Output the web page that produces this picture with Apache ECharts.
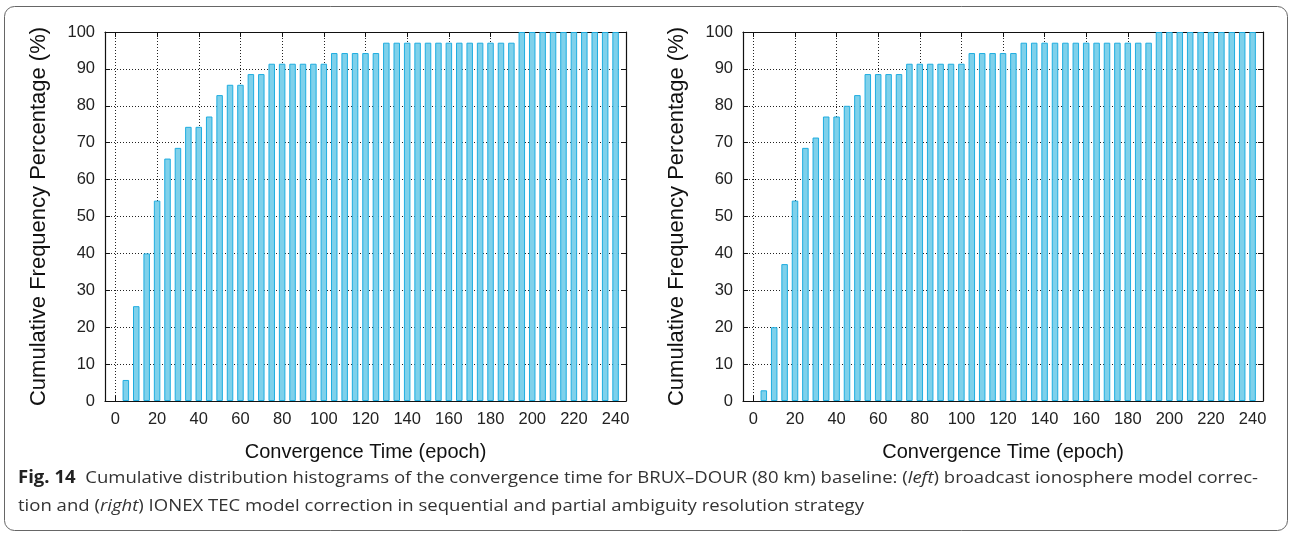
<!DOCTYPE html>
<html><head><meta charset="utf-8">
<script src="https://cdn.jsdelivr.net/npm/echarts@6/dist/echarts.min.js"></script>
<style>html,body{margin:0;padding:0;background:#fff}#c{width:1290px;height:533px}</style>
</head><body><div id="c"></div>
<script>
const epochs = [5,10,15,20,25,30,35,40,45,50,55,60,65,70,75,80,85,90,95,100,105,110,115,120,125,130,135,140,145,150,155,160,165,170,175,180,185,190,195,200,205,210,215,220,225,230,235,240];
const leftValues = [5.7,25.7,40.0,54.3,65.7,68.6,74.3,74.3,77.1,82.9,85.7,85.7,88.6,88.6,91.4,91.4,91.4,91.4,91.4,91.4,94.3,94.3,94.3,94.3,94.3,97.1,97.1,97.1,97.1,97.1,97.1,97.1,97.1,97.1,97.1,97.1,97.1,97.1,100,100,100,100,100,100,100,100,100,100];
const rightValues = [2.9,20.0,37.1,54.3,68.6,71.4,77.1,77.1,80.0,82.9,88.6,88.6,88.6,88.6,91.4,91.4,91.4,91.4,91.4,91.4,94.3,94.3,94.3,94.3,94.3,97.1,97.1,97.1,97.1,97.1,97.1,97.1,97.1,97.1,97.1,97.1,97.1,97.1,100,100,100,100,100,100,100,100,100,100];
const xTicks = [0,20,40,60,80,100,120,140,160,180,200,220,240];
const yTicks = [0,10,20,30,40,50,60,70,80,90,100];
const xTitle = 'Convergence Time (epoch)';
const yTitle = 'Cumulative Frequency Percentage (%)';
const capBold = 'Fig. 14';
const cap1a = '  Cumulative distribution histograms of the convergence time for BRUX\u2013DOUR (80 km) baseline: (';
const cap1i = 'left';
const cap1b = ') broadcast ionosphere model correc-';
const cap2a = 'tion and (';
const cap2i = 'right';
const cap2b = ') IONEX TEC model correction in sequential and partial ambiguity resolution strategy';

const axisFont = "'Liberation Sans', Arial, sans-serif";
const capFamily = "'Open Sans', 'Noto Sans', sans-serif";
const black = '#111';
const capSize = 17;
const capTargetWidth = 1240;

// measure caption line 1 to fit the reference width (font substitution)
const mctx = document.createElement('canvas').getContext('2d');
function w(txt, style){ mctx.font = style + ' ' + capSize + 'px ' + capFamily; return mctx.measureText(txt).width; }
const line1W = w(capBold, 'bold') + w(cap1a + cap1b, 'normal') + w(cap1i, 'italic');
const capScale = capTargetWidth / line1W;

function pairs(vals){ return epochs.map((e,i)=>[e, vals[i]]); }

const grids = [
  {left:105, top:32, width:521, height:369},
  {left:743, top:32, width:520, height:369}
];
const xAxes = [], yAxes = [], series = [];
[leftValues, rightValues].forEach((vals, gi) => {
  xAxes.push({
    type:'value', gridIndex:gi, position:'bottom', min:-5, max:245,
    axisLine:{show:true, onZero:false, lineStyle:{color:black, width:1.2}},
    axisTick:{show:true, inside:true, length:5, customValues:xTicks, lineStyle:{color:black}},
    axisLabel:{show:true, customValues:xTicks, margin:10, fontSize:16.5, fontFamily:axisFont, color:'#222'},
    splitLine:{show:true, lineStyle:{color:'#222', type:[1,2], width:1}},
    name:xTitle, nameLocation:'middle', nameGap:41,
    nameTextStyle:{fontSize:20, fontFamily:axisFont, color:'#111'}
  });
  xAxes.push({
    type:'value', gridIndex:gi, position:'top', min:-5, max:245,
    axisLine:{show:true, onZero:false, lineStyle:{color:black, width:1.2}},
    axisTick:{show:true, inside:true, length:5, customValues:xTicks, lineStyle:{color:black}},
    axisLabel:{show:false}, splitLine:{show:false}
  });
  yAxes.push({
    type:'value', gridIndex:gi, position:'left', min:0, max:100, interval:10,
    axisLine:{show:true, onZero:false, lineStyle:{color:black, width:1.2}},
    axisTick:{show:true, inside:true, length:5, lineStyle:{color:black}},
    axisLabel:{show:true, margin:10, fontSize:16.5, fontFamily:axisFont, color:'#222'},
    splitLine:{show:true, lineStyle:{color:'#222', type:[1,2], width:1}},
    name:yTitle, nameLocation:'middle', nameGap:55,
    nameTextStyle:{fontSize:22, fontFamily:axisFont, color:'#111'}
  });
  yAxes.push({
    type:'value', gridIndex:gi, position:'right', min:0, max:100, interval:10,
    axisLine:{show:true, onZero:false, lineStyle:{color:black, width:1.2}},
    axisTick:{show:true, inside:true, length:5, lineStyle:{color:black}},
    axisLabel:{show:false}, splitLine:{show:false}
  });
  series.push({
    type:'bar', xAxisIndex:gi*2, yAxisIndex:gi*2, data:pairs(vals), barWidth:6.5,
    itemStyle:{color:'#7fd1eb', borderColor:'#1fade0', borderWidth:1},
    silent:true, animation:false
  });
});

const richStyles = {
  b:{fontWeight:'bold', fontSize:capSize, fontFamily:capFamily, fill:'#222'},
  i:{fontStyle:'italic', fontSize:capSize, fontFamily:capFamily, fill:'#333'}
};

const chart = echarts.init(document.getElementById('c'), null, {renderer:'canvas'});
chart.setOption({
  animation:false,
  backgroundColor:'#fff',
  grid:grids, xAxis:xAxes, yAxis:yAxes, series:series,
  graphic:[
    {type:'rect', shape:{x:4.5, y:6.5, width:1283, height:524, r:10}, style:{fill:'none', stroke:'#666', lineWidth:1}, silent:true},
    {type:'text', x:18, y:470, scaleX:capScale, style:{text:'{b|' + capBold + '}' + cap1a + '{i|' + cap1i + '}' + cap1b,
      fontSize:capSize, fontFamily:capFamily, fill:'#333', rich:richStyles}},
    {type:'text', x:18, y:498, scaleX:capScale, style:{text:cap2a + '{i|' + cap2i + '}' + cap2b,
      fontSize:capSize, fontFamily:capFamily, fill:'#333', rich:richStyles}}
  ]
});
</script></body></html>
